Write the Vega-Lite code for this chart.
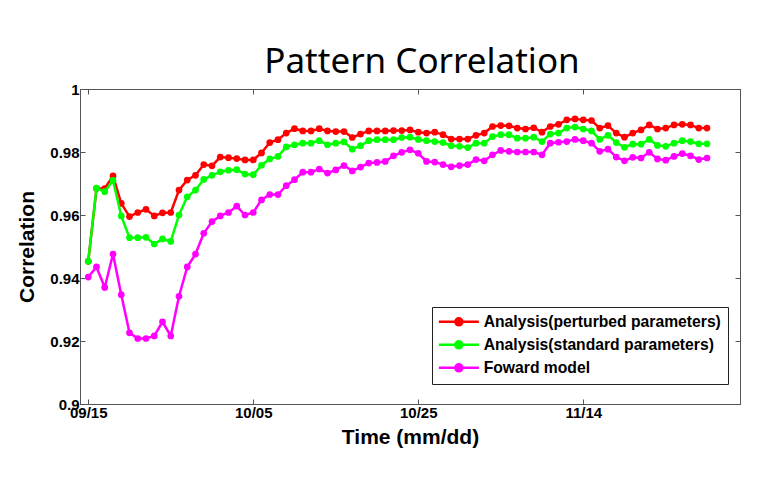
{
  "$schema": "https://vega.github.io/schema/vega-lite/v6.json",
  "width": 660,
  "height": 315,
  "autosize": "none",
  "padding": {"left": 80, "top": 89, "right": 29, "bottom": 73},
  "background": "white",
  "title": {"text": "Pattern Correlation", "font": "Noto Sans", "fontSize": 35, "fontWeight": "normal", "color": "black", "offset": 2, "dx": 12, "anchor": "middle"},
  "config": {
    "view": {"stroke": "#555555", "strokeWidth": 1},
    "axis": {"labelFont": "Liberation Sans", "labelFontWeight": "bold", "labelFontSize": 15, "labelColor": "black", "titleFont": "Liberation Sans", "titleFontWeight": "bold", "titleFontSize": 21, "titleColor": "black", "grid": false, "domainColor": "#555555", "tickColor": "#555555", "tickSize": -5, "labelPadding": 6}
  },
  "data": {"values": [
    {"date": "2010-09-15", "p": 0.9453, "s": 0.9453, "f": 0.9403},
    {"date": "2010-09-16", "p": 0.9684, "s": 0.9685, "f": 0.9435},
    {"date": "2010-09-17", "p": 0.9684, "s": 0.9674, "f": 0.937},
    {"date": "2010-09-18", "p": 0.9724, "s": 0.971, "f": 0.9476},
    {"date": "2010-09-19", "p": 0.9637, "s": 0.9597, "f": 0.9347},
    {"date": "2010-09-20", "p": 0.9595, "s": 0.9528, "f": 0.9226},
    {"date": "2010-09-21", "p": 0.9608, "s": 0.9528, "f": 0.9208},
    {"date": "2010-09-22", "p": 0.9618, "s": 0.9529, "f": 0.9208},
    {"date": "2010-09-23", "p": 0.9597, "s": 0.9508, "f": 0.9216},
    {"date": "2010-09-24", "p": 0.9607, "s": 0.9524, "f": 0.9261},
    {"date": "2010-09-25", "p": 0.9608, "s": 0.9516, "f": 0.9216},
    {"date": "2010-09-26", "p": 0.9679, "s": 0.96, "f": 0.9342},
    {"date": "2010-09-27", "p": 0.9711, "s": 0.9658, "f": 0.9435},
    {"date": "2010-09-28", "p": 0.9726, "s": 0.9679, "f": 0.9476},
    {"date": "2010-09-29", "p": 0.976, "s": 0.9713, "f": 0.9542},
    {"date": "2010-09-30", "p": 0.9756, "s": 0.9726, "f": 0.9579},
    {"date": "2010-10-01", "p": 0.9784, "s": 0.9737, "f": 0.9597},
    {"date": "2010-10-02", "p": 0.9782, "s": 0.9742, "f": 0.9608},
    {"date": "2010-10-03", "p": 0.9779, "s": 0.9744, "f": 0.9628},
    {"date": "2010-10-04", "p": 0.9775, "s": 0.973, "f": 0.96},
    {"date": "2010-10-05", "p": 0.9775, "s": 0.9728, "f": 0.9608},
    {"date": "2010-10-06", "p": 0.9797, "s": 0.9758, "f": 0.9648},
    {"date": "2010-10-07", "p": 0.983, "s": 0.9778, "f": 0.9665},
    {"date": "2010-10-08", "p": 0.9839, "s": 0.9786, "f": 0.9665},
    {"date": "2010-10-09", "p": 0.986, "s": 0.9816, "f": 0.9693},
    {"date": "2010-10-10", "p": 0.9874, "s": 0.9823, "f": 0.9712},
    {"date": "2010-10-11", "p": 0.9867, "s": 0.9828, "f": 0.9736},
    {"date": "2010-10-12", "p": 0.9867, "s": 0.9828, "f": 0.9736},
    {"date": "2010-10-13", "p": 0.9874, "s": 0.9836, "f": 0.9746},
    {"date": "2010-10-14", "p": 0.9867, "s": 0.9823, "f": 0.9733},
    {"date": "2010-10-15", "p": 0.9865, "s": 0.9828, "f": 0.9743},
    {"date": "2010-10-16", "p": 0.9865, "s": 0.9832, "f": 0.9757},
    {"date": "2010-10-17", "p": 0.9846, "s": 0.9809, "f": 0.974},
    {"date": "2010-10-18", "p": 0.9857, "s": 0.982, "f": 0.9752},
    {"date": "2010-10-19", "p": 0.9867, "s": 0.9836, "f": 0.9765},
    {"date": "2010-10-20", "p": 0.9867, "s": 0.9839, "f": 0.9767},
    {"date": "2010-10-21", "p": 0.9867, "s": 0.9839, "f": 0.977},
    {"date": "2010-10-22", "p": 0.9868, "s": 0.9839, "f": 0.9788},
    {"date": "2010-10-23", "p": 0.9868, "s": 0.9846, "f": 0.9799},
    {"date": "2010-10-24", "p": 0.987, "s": 0.9847, "f": 0.9807},
    {"date": "2010-10-25", "p": 0.9863, "s": 0.984, "f": 0.9796},
    {"date": "2010-10-26", "p": 0.986, "s": 0.9836, "f": 0.977},
    {"date": "2010-10-27", "p": 0.9863, "s": 0.9833, "f": 0.9768},
    {"date": "2010-10-28", "p": 0.9855, "s": 0.983, "f": 0.976},
    {"date": "2010-10-29", "p": 0.9841, "s": 0.982, "f": 0.9753},
    {"date": "2010-10-30", "p": 0.9841, "s": 0.9818, "f": 0.9757},
    {"date": "2010-10-31", "p": 0.9841, "s": 0.9814, "f": 0.976},
    {"date": "2010-11-01", "p": 0.9853, "s": 0.9828, "f": 0.9776},
    {"date": "2010-11-02", "p": 0.986, "s": 0.9828, "f": 0.9772},
    {"date": "2010-11-03", "p": 0.9881, "s": 0.9849, "f": 0.9791},
    {"date": "2010-11-04", "p": 0.9884, "s": 0.9855, "f": 0.9805},
    {"date": "2010-11-05", "p": 0.9883, "s": 0.9855, "f": 0.9802},
    {"date": "2010-11-06", "p": 0.9876, "s": 0.9844, "f": 0.98},
    {"date": "2010-11-07", "p": 0.9873, "s": 0.9844, "f": 0.98},
    {"date": "2010-11-08", "p": 0.9877, "s": 0.9847, "f": 0.98},
    {"date": "2010-11-09", "p": 0.9863, "s": 0.9833, "f": 0.9791},
    {"date": "2010-11-10", "p": 0.9881, "s": 0.9857, "f": 0.9828},
    {"date": "2010-11-11", "p": 0.9888, "s": 0.986, "f": 0.9831},
    {"date": "2010-11-12", "p": 0.9902, "s": 0.9876, "f": 0.9833},
    {"date": "2010-11-13", "p": 0.9905, "s": 0.9879, "f": 0.984},
    {"date": "2010-11-14", "p": 0.9902, "s": 0.9873, "f": 0.9836},
    {"date": "2010-11-15", "p": 0.99, "s": 0.9867, "f": 0.9828},
    {"date": "2010-11-16", "p": 0.9876, "s": 0.984, "f": 0.9802},
    {"date": "2010-11-17", "p": 0.9884, "s": 0.9853, "f": 0.9809},
    {"date": "2010-11-18", "p": 0.986, "s": 0.983, "f": 0.9784},
    {"date": "2010-11-19", "p": 0.9847, "s": 0.9815, "f": 0.9772},
    {"date": "2010-11-20", "p": 0.986, "s": 0.9825, "f": 0.9783},
    {"date": "2010-11-21", "p": 0.987, "s": 0.9825, "f": 0.9781},
    {"date": "2010-11-22", "p": 0.9886, "s": 0.984, "f": 0.9799},
    {"date": "2010-11-23", "p": 0.9873, "s": 0.9821, "f": 0.9778},
    {"date": "2010-11-24", "p": 0.9876, "s": 0.9818, "f": 0.9774},
    {"date": "2010-11-25", "p": 0.9886, "s": 0.9828, "f": 0.9786},
    {"date": "2010-11-26", "p": 0.9888, "s": 0.9836, "f": 0.9795},
    {"date": "2010-11-27", "p": 0.9886, "s": 0.9833, "f": 0.9788},
    {"date": "2010-11-28", "p": 0.9876, "s": 0.9826, "f": 0.9776},
    {"date": "2010-11-29", "p": 0.9876, "s": 0.9826, "f": 0.9781}
  ]},
  "transform": [
    {"fold": ["p", "s", "f"], "as": ["key", "value"]},
    {"lookup": "key", "from": {"data": {"values": [
      {"key": "p", "series": "Analysis(perturbed parameters)"},
      {"key": "s", "series": "Analysis(standard parameters)"},
      {"key": "f", "series": "Foward model"}
    ]}, "key": "key", "fields": ["series"]}}
  ],
  "resolve": {"axis": {"x": "independent", "y": "independent"}},
  "layer": [
    {
      "transform": [{"filter": "datum.key === 'p'"}],
      "mark": {"type": "line", "strokeWidth": 2.5, "point": {"filled": true, "size": 45, "opacity": 1}},
      "encoding": {
        "x": {"field": "date", "type": "temporal", "scale": {"type": "utc", "domain": [{"year": 2010, "month": 9, "date": 14, "utc": true}, {"year": 2010, "month": 12, "date": 3, "utc": true}]},
          "axis": {"title": "Time (mm/dd)", "format": "%m/%d", "values": [{"year": 2010, "month": 9, "date": 15, "utc": true}, {"year": 2010, "month": 10, "date": 5, "utc": true}, {"year": 2010, "month": 10, "date": 25, "utc": true}, {"year": 2010, "month": 11, "date": 14, "utc": true}], "titlePadding": 6}},
        "y": {"field": "value", "type": "quantitative", "scale": {"domain": [0.9, 1], "nice": false, "zero": false},
          "axis": {"title": "Correlation", "values": [0.9, 0.92, 0.94, 0.96, 0.98, 1], "format": ".2~f", "titlePadding": 12}},
        "color": {"field": "series", "type": "nominal",
          "scale": {"domain": ["Analysis(perturbed parameters)", "Analysis(standard parameters)", "Foward model"], "range": ["#ff0000", "#00ff00", "#ff00ff"]},
          "legend": {"title": null, "orient": "none", "legendX": 352, "legendY": 218, "padding": 7, "strokeColor": "#222222", "fillColor": "white", "labelFont": "Liberation Sans", "labelFontWeight": "bold", "labelFontSize": 15.7, "labelColor": "black", "labelLimit": 0, "rowPadding": 5,
            "symbolType": "M-4,0L4,0M0.7,0A0.7,0.7,0,1,1,-0.7,0A0.7,0.7,0,1,1,0.7,0Z", "symbolSize": 100, "symbolStrokeWidth": 2.5, "symbolOffset": 12, "labelOffset": 17,
            "encode": {"symbols": {"update": {"fill": {"scale": "color", "field": "value"}, "stroke": {"scale": "color", "field": "value"}, "opacity": {"value": 1}}}}}
        }
      }
    },
    {
      "transform": [{"filter": "datum.key === 's'"}],
      "mark": {"type": "line", "strokeWidth": 2.5, "point": {"filled": true, "size": 45, "opacity": 1}},
      "encoding": {
        "x": {"field": "date", "type": "temporal", "axis": {"orient": "top", "labels": false, "title": null, "values": [{"year": 2010, "month": 9, "date": 15, "utc": true}, {"year": 2010, "month": 10, "date": 5, "utc": true}, {"year": 2010, "month": 10, "date": 25, "utc": true}, {"year": 2010, "month": 11, "date": 14, "utc": true}]}},
        "y": {"field": "value", "type": "quantitative", "axis": {"orient": "right", "labels": false, "title": null, "values": [0.9, 0.92, 0.94, 0.96, 0.98, 1]}},
        "color": {"field": "series", "type": "nominal"}
      }
    },
    {
      "transform": [{"filter": "datum.key === 'f'"}],
      "mark": {"type": "line", "strokeWidth": 2.5, "point": {"filled": true, "size": 45, "opacity": 1}},
      "encoding": {
        "x": {"field": "date", "type": "temporal", "axis": null},
        "y": {"field": "value", "type": "quantitative", "axis": null},
        "color": {"field": "series", "type": "nominal"}
      }
    }
  ]
}
